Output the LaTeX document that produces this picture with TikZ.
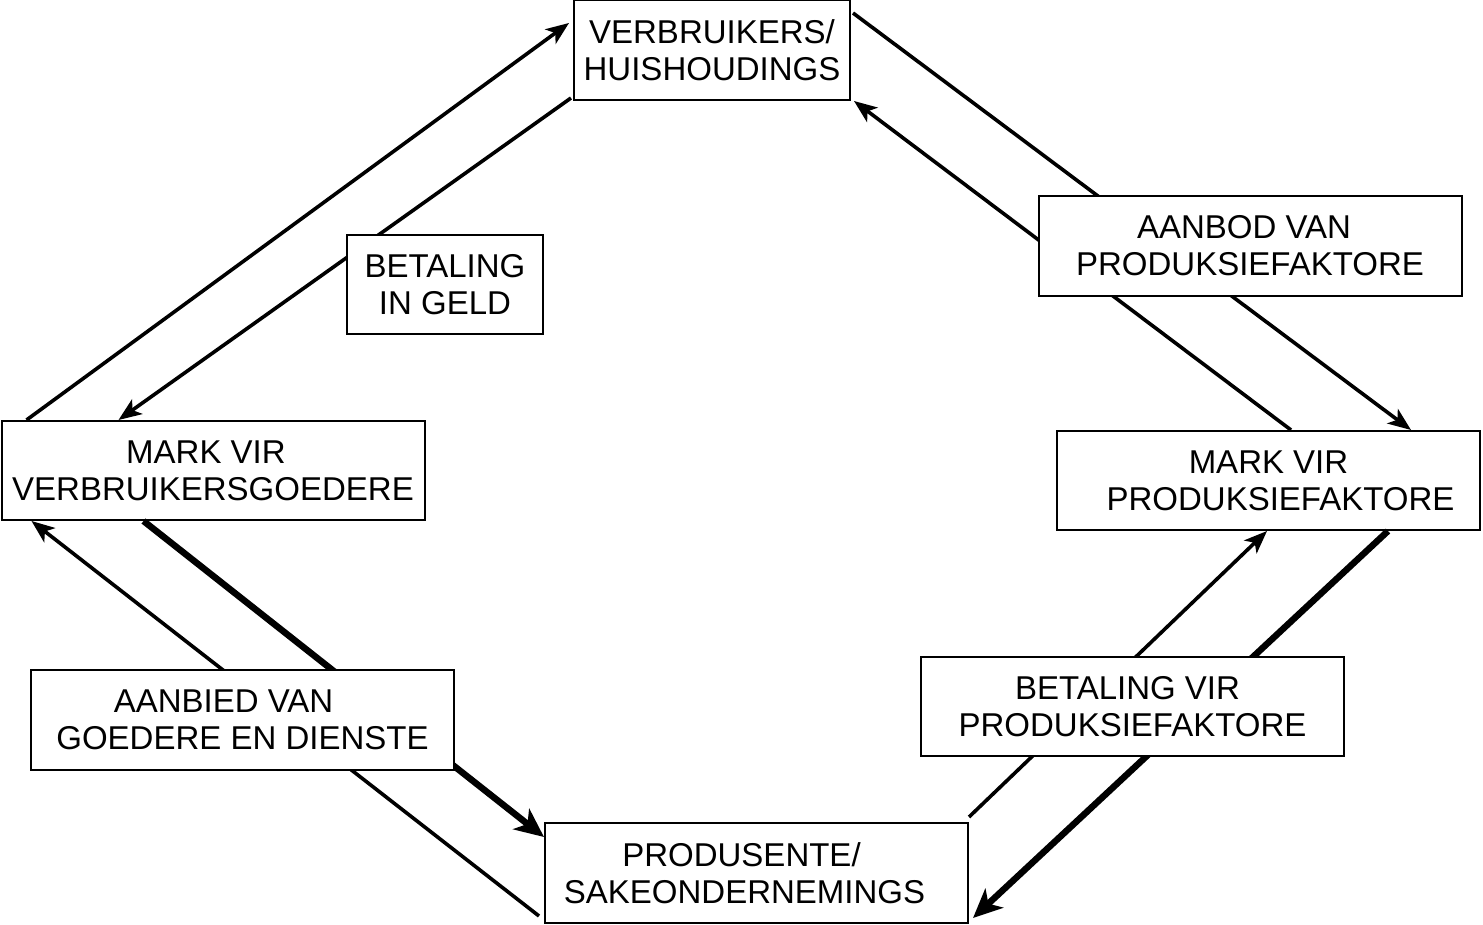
\documentclass[tikz,border=0pt]{standalone}
\usepackage{fontspec}
\setmainfont{Liberation Sans}
\usetikzlibrary{arrows.meta}
\tikzset{>={Stealth[length=23pt,width=18pt,inset=6pt]}}

\begin{document}
\begin{tikzpicture}[x=1pt,y=-1pt,
  box/.style={draw,line width=2pt,fill=white,align=center,inner sep=0pt,
    minimum width=423pt,minimum height=99pt,font=\fontsize{33}{37}\selectfont},
  flow/.style={line width=3.6pt,->},
  bigflow/.style={line width=6.5pt,->,>={Stealth[length=29pt,width=26pt,inset=8pt]}}]
\useasboundingbox (0,0) rectangle (1483,925);
\node[box,minimum width=276pt,minimum height=100pt] (vh) at (712,50) {VERBRUIKERS/\\HUISHOUDINGS};
\node[box] (mvg) at (213,470.5) {MARK VIR\hspace*{14pt}\\VERBRUIKERSGOEDERE};
\node[box] (mpf) at (1268.5,480.5) {MARK VIR\\\hspace*{24pt}PRODUKSIEFAKTORE};
\node[box,minimum height=100pt] (ps) at (756.5,873) {PRODUSENTE/\hspace*{30pt}\\SAKEONDERNEMINGS\hspace*{24pt}};
\draw[flow] ([xshift=26pt]mvg.north west) -- ([xshift=-4pt,yshift=-24pt]vh.north west);
\draw[flow] ([xshift=-2pt,yshift=3pt]vh.south west) -- ([xshift=118pt]mvg.north west);
\draw[flow] ([xshift=2pt,yshift=-14pt]vh.north east) -- ([xshift=-70pt]mpf.north east);
\draw[flow] ([xshift=-190pt]mpf.north east) -- ([xshift=3pt]vh.south east);
\draw[flow] ([xshift=-5pt,yshift=8pt]ps.south west) -- ([xshift=31pt]mvg.south west);
\draw[bigflow] ([xshift=143pt]mvg.south west) -- ([yshift=-15pt]ps.north west);
\draw[flow] ([yshift=5pt]ps.north east) -- ([xshift=211pt]mpf.south west);
\draw[bigflow] ([xshift=-93pt]mpf.south east) -- ([xshift=4pt,yshift=6pt]ps.south east);
\node[box,minimum width=196pt] (geld) at (445,284.5) {BETALING\\IN GELD};
\node[box,minimum height=100pt] (aanbod) at (1250,246) {AANBOD VAN\hspace*{12pt}\\PRODUKSIEFAKTORE};
\node[box,minimum height=100pt] (aanbied) at (242.5,720) {AANBIED VAN\hspace*{38pt}\\GOEDERE EN DIENSTE};
\node[box] (betaling) at (1132.5,706.5) {BETALING VIR\hspace*{10pt}\\PRODUKSIEFAKTORE};
\end{tikzpicture}
\end{document}
